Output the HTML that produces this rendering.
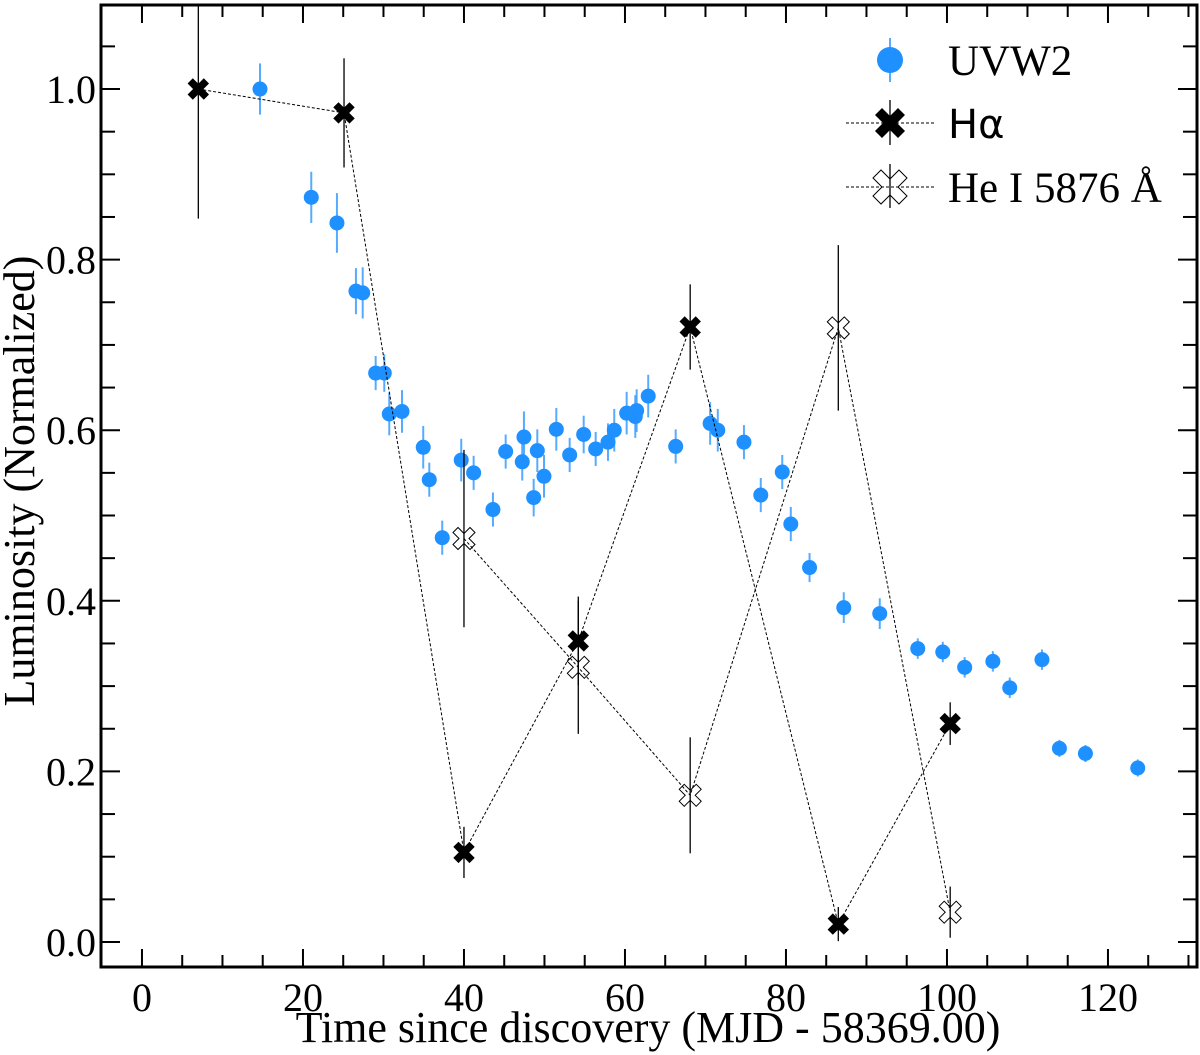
<!DOCTYPE html>
<html><head><meta charset="utf-8"><style>
html,body{margin:0;padding:0;background:#fff}
svg{display:block}
text{font-family:"Liberation Serif",serif;fill:#000}
</style></head><body>
<svg id="chart" width="1200" height="1055" viewBox="0 0 1200 1055" xmlns="http://www.w3.org/2000/svg">
<g id="grid"></g>
<g id="plot"></g>
<g id="axes"></g>
<g id="legend"></g>
</svg>
<script>
const uvTime=[14.66,21.03,24.22,26.58,27.42,29.03,30.10,30.72,32.30,34.94,35.69,37.30,39.66,41.20,43.60,45.18,47.24,47.45,48.66,49.11,49.94,51.47,53.13,54.87,56.36,57.89,58.67,60.21,61.28,61.45,62.89,66.30,70.58,71.53,74.78,76.87,79.54,80.60,82.93,87.18,91.65,96.37,99.48,102.2,105.7,107.8,111.8,113.97,117.2,123.7];
const uvLum=[1.0,0.873,0.843,0.763,0.761,0.667,0.667,0.619,0.622,0.580,0.542,0.474,0.565,0.550,0.507,0.575,0.563,0.592,0.521,0.576,0.546,0.601,0.571,0.595,0.578,0.586,0.600,0.620,0.616,0.623,0.640,0.581,0.608,0.600,0.586,0.524,0.551,0.490,0.439,0.392,0.385,0.344,0.340,0.322,0.329,0.298,0.331,0.227,0.221,0.204];
const uvErr=[0.03,0.03,0.035,0.027,0.03,0.02,0.022,0.025,0.025,0.025,0.02,0.02,0.025,0.02,0.02,0.02,0.022,0.03,0.022,0.025,0.025,0.025,0.02,0.022,0.02,0.022,0.025,0.025,0.025,0.025,0.025,0.02,0.025,0.025,0.02,0.02,0.02,0.02,0.017,0.018,0.018,0.012,0.012,0.012,0.012,0.012,0.012,0.01,0.01,0.01];
const haTime=[7.0,25.1,40.0,54.2,68.1,86.5,100.4];
const haLum=[1.0,0.972,0.105,0.353,0.721,0.021,0.256];
const haErr=[0.152,0.064,0.03,0.052,0.05,0.02,0.025];
const heTime=[40.0,54.2,68.1,86.5,100.4];
const heLum=[0.473,0.322,0.172,0.720,0.035];
const heErr=[0.104,0.078,0.068,0.097,0.03];
const xTicks=[0,20,40,60,80,100,120];
const yTicks=[0.0,0.2,0.4,0.6,0.8,1.0];

const NS="http://www.w3.org/2000/svg";
const L=101,R=1197,T=5,B=967;
const xMin=-5.09,xMax=131.06,yMin=-0.0293,yMax=1.0985;
const xs=v=>L+(v-xMin)/(xMax-xMin)*(R-L);
const ys=v=>B-(v-yMin)/(yMax-yMin)*(B-T);
function mk(tag,attrs,parent){const e=document.createElementNS(NS,tag);for(const k in attrs)e.setAttribute(k,attrs[k]);parent.appendChild(e);return e;}
const plot=document.getElementById('plot'),axes=document.getElementById('axes'),leg=document.getElementById('legend');
function xPath(cx,cy,s,w){
  const a=s,b=w;
  const pts=[[-a,-a+b],[-a+b,-a],[0,-b],[a-b,-a],[a,-a+b],[b,0],[a,a-b],[a-b,a],[0,b],[-a+b,a],[-a,a-b],[-b,0]];
  return pts.map(p=>(cx+p[0]).toFixed(1)+','+(cy+p[1]).toFixed(1)).join(' ');
}
uvTime.forEach((t,i)=>{
  const g=mk('g',{},plot);
  
  
  mk('line',{x1:xs(t),x2:xs(t),y1:ys(uvLum[i]-uvErr[i]),y2:ys(uvLum[i]+uvErr[i]),stroke:'#1e90ff','stroke-width':2,opacity:0.75},g);
  mk('circle',{cx:xs(t),cy:ys(uvLum[i]),r:7.5,fill:'#1e90ff'},g);
});
function series(times,lums,errs,name,filled){
  const line=mk('polyline',{points:times.map((t,i)=>xs(t)+','+ys(lums[i])).join(' '),fill:'none',stroke:'#000','stroke-width':1,'stroke-dasharray':'3,2'},plot);
  
  
  times.forEach((t,i)=>{
    const g=mk('g',{},plot);
    
    
    const top=Math.max(T,ys(lums[i]+errs[i]));
    mk('line',{x1:xs(t),x2:xs(t),y1:top,y2:ys(lums[i]-errs[i]),stroke:'#000','stroke-width':1.3},g);
    if(filled) mk('polygon',{points:xPath(xs(t),ys(lums[i]),10,4.5),fill:'#000',stroke:'#000','stroke-width':1},g);
    else mk('polygon',{points:xPath(xs(t),ys(lums[i]),11,5),fill:'#fff','fill-opacity':0,stroke:'#000','stroke-width':1},g);
  });
}
series(heTime,heLum,heErr,'he-i',false);
series(haTime,haLum,haErr,'h-alpha',true);
const fr=mk('rect',{x:L,y:T,width:R-L,height:B-T,fill:'none',stroke:'#000','stroke-width':3},axes);


for(let v=0;v<=130;v+=5){
  const maj=v%20===0,len=maj?18:12,x=xs(v);
  mk('line',{x1:x,x2:x,y1:B,y2:B-len,stroke:'#000','stroke-width':2},axes);
  mk('line',{x1:x,x2:x,y1:T,y2:T+len,stroke:'#000','stroke-width':2},axes);
}
xTicks.forEach(v=>{
  const t=mk('text',{x:xs(v),y:1011,'text-anchor':'middle','font-size':40},axes);
  t.textContent=String(v);
  
  
});
for(let k=0;k<=21;k++){
  const v=k*0.05,maj=k%4===0,len=maj?19:14,y=ys(v);
  if(y<T+2)continue;
  mk('line',{x1:L,x2:L+len,y1:y,y2:y,stroke:'#000','stroke-width':2},axes);
  mk('line',{x1:R,x2:R-len,y1:y,y2:y,stroke:'#000','stroke-width':2},axes);
}
yTicks.forEach(v=>{
  const t=mk('text',{x:96,y:ys(v)+14,'text-anchor':'end','font-size':40},axes);
  t.textContent=v.toFixed(1);
  
  
});
const xt=mk('text',{x:648,y:1042,'text-anchor':'middle','font-size':44},axes);
xt.textContent='Time since discovery (MJD - 58369.00)';


const yt=mk('text',{x:0,y:0,'text-anchor':'middle','font-size':44,transform:'translate(34,481) rotate(-90)'},axes);
yt.textContent='Luminosity (Normalized)';


const lx=890;
let e=mk('g',{},leg);


mk('line',{x1:lx,x2:lx,y1:38,y2:82,stroke:'#1e90ff','stroke-width':1.5},e);
mk('circle',{cx:lx,cy:60,r:13,fill:'#1e90ff'},e);
let tx=mk('text',{x:948,y:75,'font-size':43},e);tx.textContent='UVW2';
e=mk('g',{},leg);


mk('line',{x1:846,x2:935,y1:123,y2:123,stroke:'#000','stroke-width':1,'stroke-dasharray':'3,2'},e);
mk('line',{x1:lx,x2:lx,y1:100,y2:145,stroke:'#000','stroke-width':1.3},e);
mk('polygon',{points:xPath(lx,123,15,7),fill:'#000'},e);
tx=mk('text',{x:948,y:138,'font-size':40,style:'font-family:"DejaVu Sans","Liberation Sans",sans-serif'},e);tx.textContent='Hα';
e=mk('g',{},leg);


mk('line',{x1:846,x2:935,y1:187,y2:187,stroke:'#000','stroke-width':1,'stroke-dasharray':'3,2'},e);
mk('line',{x1:lx,x2:lx,y1:164,y2:208,stroke:'#000','stroke-width':1.3},e);
mk('polygon',{points:xPath(lx,187,17,8),fill:'none',stroke:'#000','stroke-width':1},e);
tx=mk('text',{x:948,y:202,'font-size':43},e);tx.textContent='He I 5876 Å';
</script>
</body></html>
